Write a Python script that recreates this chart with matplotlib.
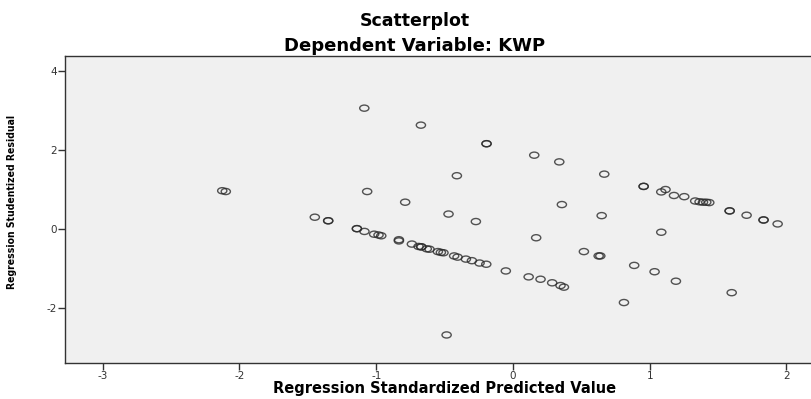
import numpy as np
import matplotlib
matplotlib.use('Agg')
import matplotlib.pyplot as plt
from matplotlib.path import Path
from matplotlib.transforms import Affine2D

plt.rcParams['axes.unicode_minus'] = False

# regression standardized predicted value / studentized residual
pred_value = [
    -2.126, -2.100, -1.449, -1.351, -1.351, -1.141, -1.141, -1.086, -1.015, -0.983,
    -0.963, -0.834, -0.834, -0.739, -0.690, -0.670, -0.670, -0.630, -0.610, -0.549,
    -0.527, -0.508, -0.430, -0.405, -0.344, -0.300, -0.244, -0.195, -0.052, 0.115,
    0.202, 0.287, 0.348, 0.373,
    -1.087, -0.673, -0.193, -0.193, -0.410, 0.156, 0.339, 0.668,
    0.956, 0.956, 1.085, 1.116, 1.178, 1.253,
    1.333, 1.365, 1.390, 1.414, 1.436,
    1.585, 1.585, 1.709, 1.833, 1.833, 1.936,
    -1.066, -0.788, -0.471, -0.271,
    0.358, 0.649, 1.085, 0.170,
    0.519, 0.627, 0.639, 0.887, 1.036, 1.192, 0.812, 1.600, -0.485,
]
stud_resid = [
    0.97, 0.95, 0.30, 0.21, 0.21, 0.01, 0.01, -0.06, -0.13, -0.15,
    -0.17, -0.27, -0.30, -0.38, -0.44, -0.45, -0.45, -0.50, -0.51, -0.57,
    -0.59, -0.60, -0.68, -0.71, -0.76, -0.80, -0.86, -0.89, -1.06, -1.21,
    -1.27, -1.36, -1.43, -1.47,
    3.06, 2.63, 2.16, 2.16, 1.35, 1.87, 1.70, 1.39,
    1.08, 1.08, 0.94, 1.00, 0.85, 0.82,
    0.71, 0.69, 0.68, 0.68, 0.67,
    0.46, 0.46, 0.35, 0.23, 0.23, 0.13,
    0.95, 0.68, 0.38, 0.19,
    0.62, 0.34, -0.08, -0.22,
    -0.57, -0.68, -0.68, -0.92, -1.08, -1.32, -1.86, -1.61, -2.68,
]

x_ticks = [-3, -2, -1, 0, 1, 2]
y_ticks = [-2, 0, 2, 4]

# the source image is stretched sideways, so the circles are flat ellipses
ellipse = Path.unit_circle().transformed(Affine2D().scale(1.5, 1.0))

fig = plt.figure(figsize=(8.11, 3.99), dpi=100)
ax = fig.add_axes([65 / 811, 36 / 399, 1 - 65 / 811, 307 / 399])
ax.set_facecolor('#f0f0f0')

ax.scatter(pred_value, stud_resid, marker=ellipse, s=44, facecolors='none',
           edgecolors='#2a2a2a', linewidths=1.0, alpha=0.8)

ax.set_xlim(-3.276, 2.18)
ax.set_ylim(-3.39, 4.38)
ax.set_xticks(x_ticks)
ax.set_yticks(y_ticks)
ax.tick_params(axis='both', direction='out', length=5, width=1.0, color='#333333',
               labelsize=7.5, labelcolor='#333333', pad=1)

for side in ['left', 'top', 'bottom']:
    ax.spines[side].set_color('#333333')
    ax.spines[side].set_linewidth(1.0)
ax.spines['right'].set_visible(False)

ax.set_ylabel('Regression Studentized Residual', fontsize=7.5, fontweight='bold',
              fontstretch='condensed')
ax.yaxis.set_label_coords(-0.064, 0.525)

fig.text(0.5114, 1 - 21 / 399, 'Scatterplot', ha='center', va='center',
         fontsize=12.5, fontweight='bold')
fig.text(0.5114, 1 - 46 / 399, 'Dependent Variable: KWP', ha='center', va='center',
         fontsize=13, fontweight='bold')
fig.text(0.548, 1 - 389 / 399, 'Regression Standardized Predicted Value',
         ha='center', va='center', fontsize=10.5, fontweight='bold')

fig.savefig('out.png', dpi=100)
